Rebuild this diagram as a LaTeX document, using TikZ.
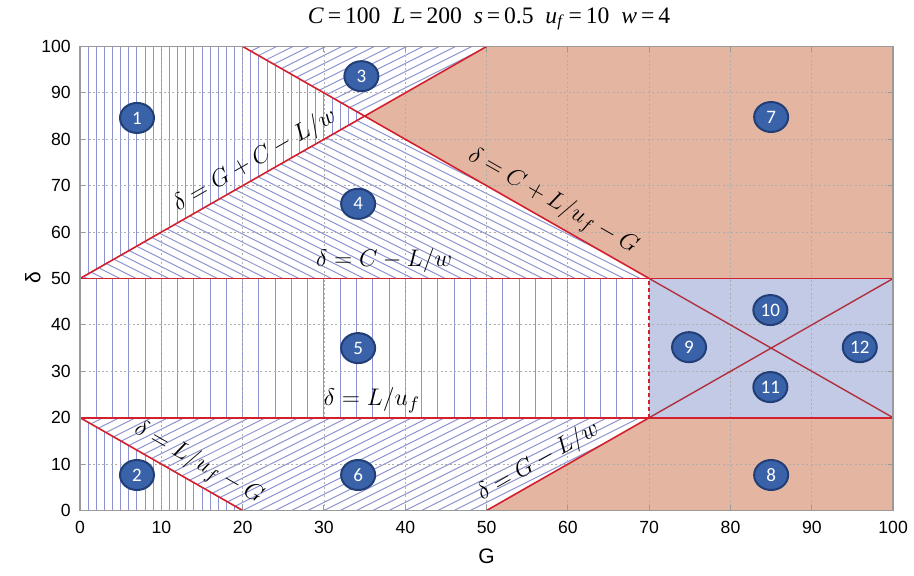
\documentclass[tikz,border=0pt]{standalone}
\usepackage{fontspec}
\setsansfont{Liberation Sans}
\newfontfamily\numfont{Carlito}
\newfontfamily\titlefont{Liberation Serif}
\usetikzlibrary{shapes.geometric}
\definecolor{myred}{HTML}{D2202E}
\definecolor{mydarkred}{HTML}{B0303E}
\definecolor{myorange}{HTML}{E4B6A1}
\definecolor{myblue}{HTML}{C3CAE6}
\definecolor{myhatch}{HTML}{8E93D2}
\definecolor{mymark}{HTML}{3A62A8}
\definecolor{mymarkb}{HTML}{213F76}
\definecolor{mygray}{HTML}{9A9A9A}

\begin{document}
\begin{tikzpicture}[
    x=4.065pt, y=2.32pt,
    hatch/.style={draw=myhatch, line width=0.5pt},
    gridline/.style={draw=mygray!80, line width=0.45pt, dash pattern=on 1pt off 1.2pt},
    redline/.style={draw=myred, line width=0.8pt},
    crossline/.style={draw=mydarkred, line width=0.7pt},
    ticklab/.style={font=\sffamily\fontsize{8.8}{10}\selectfont, inner sep=0pt},
    curvelab/.style={font=\fontsize{13}{15}\selectfont, inner sep=0pt},
    regionmark/.style={ellipse, minimum width=17pt, minimum height=15pt, inner sep=0pt,
      fill=mymark, draw=mymarkb, line width=1pt, text=white, font=\numfont\fontsize{9.5}{10}\selectfont}
  ]
  \useasboundingbox (-9.85,-13.9) rectangle (102.57,110.02);
  % filled regions
  \fill[myorange] (35,85) -- (50,100) -- (100,100) -- (100,50) -- (70,50) -- cycle;
  \fill[myorange] (50,0) -- (100,0) -- (100,20) -- (70,20) -- cycle;
  \fill[myblue] (70,20) rectangle (100,50);
  % vertical hatching (regions 1, 2, 5)
  \begin{scope}
    \clip (0,50) -- (35,85) -- (20,100) -- (0,100) -- cycle;
    \foreach \g in {0,1,...,34} \draw[hatch] (\g,50) -- (\g,100);
  \end{scope}
  \begin{scope}
    \clip (0,0) -- (0,20) -- (20,0) -- cycle;
    \foreach \g in {0,1,...,20} \draw[hatch] (\g,0) -- (\g,20);
  \end{scope}
  \foreach \g in {0,2,...,68} \draw[hatch] (\g,20) -- (\g,50);
  % diagonal hatching (regions 3, 4, 6)
  \begin{scope}
    \clip (20,100) -- (50,100) -- (35,85) -- cycle;
    \foreach \g in {-100,-98,...,60} \draw[hatch] (\g,0) -- ++(120,105.1);
  \end{scope}
  \begin{scope}
    \clip (0,20) -- (20,0) -- (50,0) -- (70,20) -- cycle;
    \foreach \g in {-30,-28,...,70} \draw[hatch] (\g,0) -- ++(40,35.04);
  \end{scope}
  \begin{scope}
    \clip (0,50) -- (35,85) -- (70,50) -- cycle;
    \foreach \g in {40,42,...,170} \draw[hatch] (\g,0) -- ++(-120,105.1);
  \end{scope}
  % grid and ticks
  \foreach \v in {10,20,...,90} {
    \draw[gridline] (\v,0) -- (\v,100);
    \draw[gridline] (0,\v) -- (100,\v);
  }
  \foreach \v in {0,10,...,100} {
    \draw[mygray, line width=0.5pt] (\v,0) -- ++(0,1.1) (\v,100) -- ++(0,-1.1);
    \draw[mygray, line width=0.5pt] (0,\v) -- ++(0.62,0) (100,\v) -- ++(-0.62,0);
    \node[ticklab, anchor=north] (xt\v) at ([yshift=-5pt]\v,0) {\v};
    \node[ticklab, anchor=east] (yt\v) at ([xshift=-4.5pt]0,\v) {\v};
  }
  % boundary lines
  \draw[redline] (0,50) -- (50,100)
    node[curvelab, pos=0.45, sloped, above=1.5pt] (lblA) {$\delta = G + C - L/w$};
  \draw[redline] (20,100) -- (70,50)
    node[curvelab, pos=0.74, sloped, above=2.5pt] (lblB) {$\delta = C + L/u_f - G$};
  \draw[redline] (0,50) -- (100,50);
  \draw[redline] (0,20) -- (100,20);
  \draw[redline] (0,20) -- (20,0)
    node[curvelab, pos=0.67, sloped, above=2.5pt] (lblC) {$\delta = L/u_f - G$};
  \draw[redline] (50,0) -- (70,20)
    node[curvelab, pos=0.37, sloped, above=2pt] (lblD) {$\delta = G - L/w$};
  \draw[redline, dash pattern=on 2pt off 1.5pt] (70,20) -- (70,50);
  \draw[crossline] (70,20) -- (100,50);
  \draw[crossline] (70,50) -- (100,20);
  \node[curvelab] (lblE) at (37.4,53.8) {$\delta = C - L/w$};
  \node[curvelab] (lblF) at (35.9,23.8) {$\delta = L/u_f$};
  % axes box
  \draw[mygray, line width=0.8pt] (0,0) rectangle (100,100);
  \node[font=\sffamily\fontsize{10.5}{12}\selectfont] (xlab) at (50,-9.8) {G};
  \node[font=\sffamily\fontsize{10.5}{12}\selectfont, rotate=90] (ylab) at (-5.8,50.1) {δ};
  \node[font=\titlefont\fontsize{11.8}{14}\selectfont] (title) at (50.3,105.9)
    {\textit{C}\,=\,100\ \ \textit{L}\,=\,200\ \ \textit{s}\,=\,0.5\ \ \textit{u}\textsubscript{\textit{f}}\,=\,10\ \ \textit{w}\,=\,4};
  % region markers
  \foreach \n/\g/\d in {1/7/84.6, 2/7/7.65, 3/34.6/93.6, 4/34.2/66.1, 5/34.2/35, 6/34.2/7.65,
      7/85/84.8, 8/85/7.65, 9/74.9/35.2, 10/84.9/43.2, 11/84.9/26.6, 12/95.9/35.2}
    \node[regionmark] (m\n) at (\g,\d) {\n};
\end{tikzpicture}
\end{document}
